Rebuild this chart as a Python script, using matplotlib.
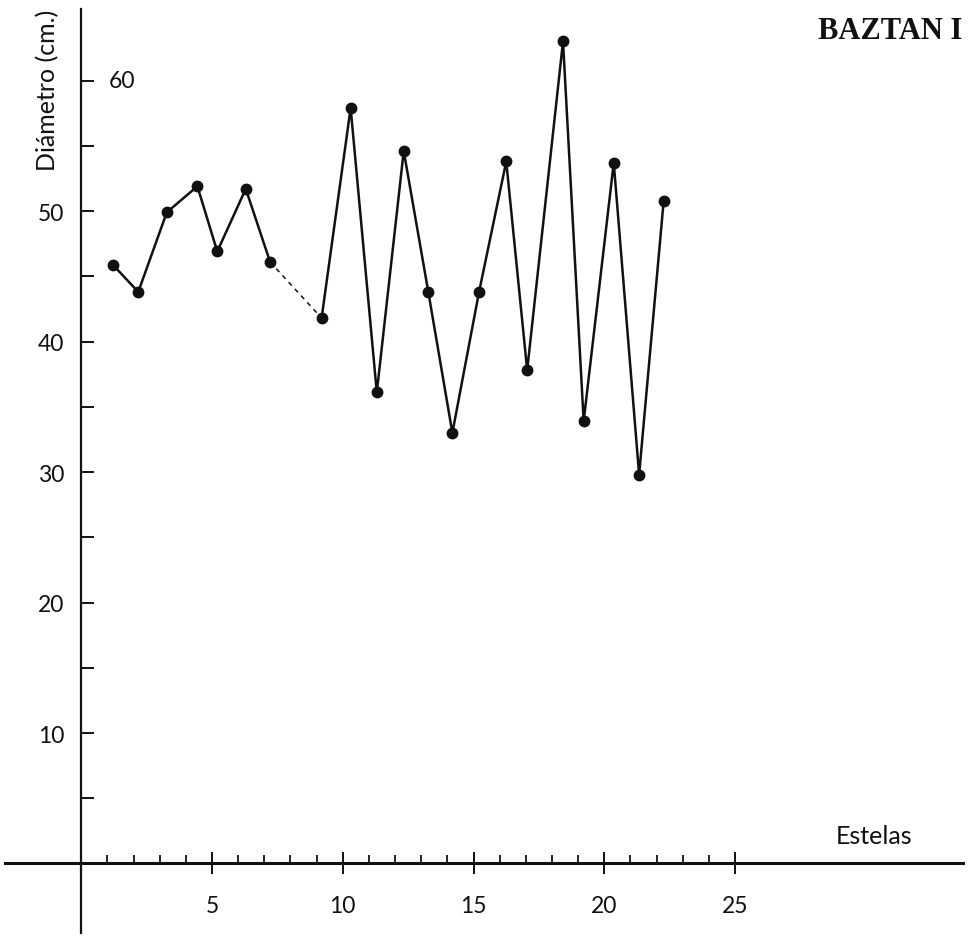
import matplotlib
matplotlib.use("Agg")
import matplotlib.pyplot as plt

# stelae (x position as drawn) and diameters in cm
estela = [1.20, 2.18, 3.27, 4.44, 5.20, 6.29, 7.22,
          9.19, 10.30, 11.30, 12.33, 13.27, 14.19, 15.21, 16.25, 17.05,
          18.42, 19.21, 20.36, 21.33, 22.27]
diametro = [45.9, 43.8, 49.9, 51.9, 46.9, 51.7, 46.1,
            41.8, 57.9, 36.1, 54.6, 43.8, 33.0, 43.8, 53.8, 37.8,
            63.0, 33.9, 53.7, 29.8, 50.8]
gap = 7  # stela 8 missing: dashed link between index 6 and 7

x_ticks = [5, 10, 15, 20, 25]
y_ticks = [10, 20, 30, 40, 50, 60]

plt.rcParams['font.family'] = ['Lato', 'DejaVu Sans']

fig = plt.figure(figsize=(9.71, 9.37), dpi=100)
ax = fig.add_axes([0, 0, 1, 1])
ax.set_xlim(-3.107, 34.02)
ax.set_ylim(-5.556, 66.25)

# data
ax.plot(estela[:gap], diametro[:gap], color='#111111', lw=1.8,
        marker='o', ms=7.5, zorder=3)
ax.plot(estela[gap:], diametro[gap:], color='#111111', lw=1.8,
        marker='o', ms=7.5, zorder=3)
ax.plot(estela[gap - 1:gap + 1], diametro[gap - 1:gap + 1], color='#111111',
        lw=1.1, ls=(0, (3, 3)), zorder=2)

# axes drawn through the origin
for side in ['top', 'right']:
    ax.spines[side].set_visible(False)
ax.spines['left'].set_position(('data', 0))
ax.spines['bottom'].set_position(('data', 0))
ax.spines['left'].set_bounds(-5.3, 65.5)
ax.spines['bottom'].set_bounds(-2.9, 33.7)
ax.spines['left'].set_linewidth(1.6)
ax.spines['bottom'].set_linewidth(2.2)
ax.spines['left'].set_color('#111111')
ax.spines['bottom'].set_color('#111111')

ax.set_xticks(x_ticks)
ax.set_xticklabels([str(t) for t in x_ticks])
ax.set_xticks([i for i in range(1, 25) if i % 5 != 0], minor=True)
ax.tick_params(axis='x', which='major', direction='inout', length=16,
               width=1.4, pad=15, labelsize=16.5, colors='#111111')
ax.tick_params(axis='x', which='minor', direction='in', length=6,
               width=1.3, colors='#111111')

ax.set_yticks(y_ticks)
ax.set_yticklabels([str(t) if t < 60 else '' for t in y_ticks])
ax.set_yticks([5, 15, 25, 35, 45, 55], minor=True)
ax.tick_params(axis='y', which='major', direction='in', length=9,
               width=1.4, pad=12, labelsize=16.5, colors='#111111')
ax.tick_params(axis='y', which='minor', direction='in', length=9,
               width=1.4, colors='#111111')
ax.text(1.05, 60, '60', fontsize=16.5, color='#111111', va='center', ha='left')

ax.text(0.049, 0.99, 'Diámetro (cm.)', transform=ax.transAxes, rotation=90,
        fontsize=18, color='#111111', ha='center', va='top')
ax.text(0.94, 0.095, 'Estelas', transform=ax.transAxes, fontsize=18,
        color='#111111', ha='right', va='bottom')
ax.text(0.991, 0.982, 'BAZTAN I', transform=ax.transAxes, fontsize=22,
        fontweight='bold', family=['Liberation Serif', 'DejaVu Serif'],
        color='#111111', ha='right', va='top')

fig.savefig('out.png', dpi=100)
